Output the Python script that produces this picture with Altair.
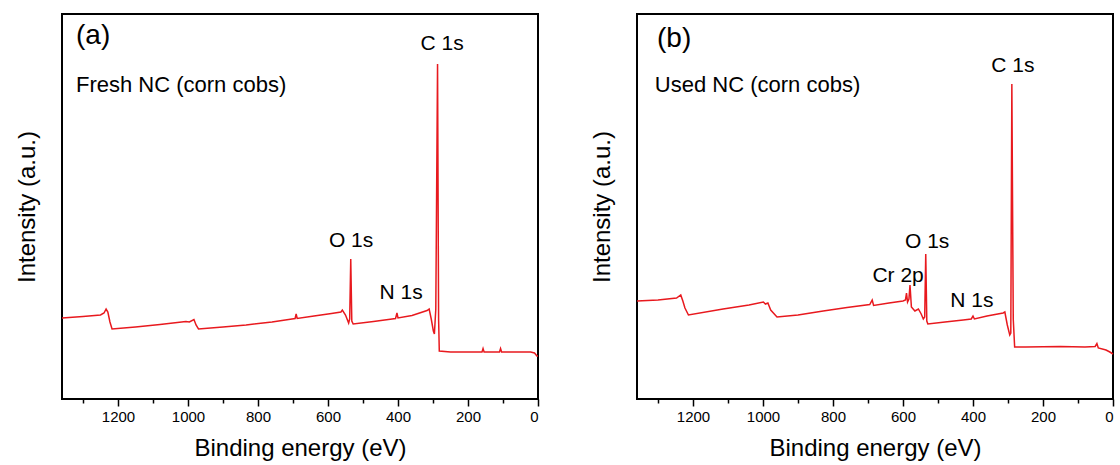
import altair as alt
import pandas as pd

FONT = "Liberation Sans"
RED = "#E8191E"

# ---- Panel (a): Fresh NC (corn cobs) ----
a_ev = [1360, 1300, 1250, 1240, 1234, 1229, 1223, 1217, 1150, 1080, 1006, 996, 983, 977, 970,
        900, 834, 760, 703, 694, 691, 688, 640, 590, 563, 559, 550, 541, 538, 535, 532, 528,
        470, 417, 407, 403, 400, 360, 317, 311, 305, 299, 296, 292, 287, 284, 282, 250, 200,
        160, 157, 154, 110, 107, 104, 50, 21, 10, 3, 0]
a_int = [81, 82.5, 84, 86, 90, 87, 77, 70, 72, 74.5, 77.5, 77, 79.5, 74, 70,
         72, 74, 77, 80, 80.5, 85, 80.5, 83, 85.5, 87, 89, 84, 76, 80, 140, 78, 75,
         77.5, 80, 80.5, 86, 81, 83.5, 88.5, 90, 80, 68, 65, 90, 335, 80, 48, 47, 47,
         47, 50.5, 47, 47, 50.5, 47, 47, 47, 46, 43, 43]

# ---- Panel (b): Used NC (corn cobs) ----
b_ev = [1360, 1300, 1247, 1235, 1229, 1223, 1213, 1114, 1040, 999, 993, 986, 978, 960,
        900, 828, 760, 695, 688, 684, 640, 600, 593, 590, 587, 583, 580, 576, 566, 556, 548,
        542, 538, 535, 532, 529, 480, 428, 405, 400, 396, 360, 314, 309, 302, 295, 292, 289,
        285, 281, 250, 150, 80, 51, 46, 42, 20, 9, 0]
b_int = [98, 99, 101, 104, 98, 91, 84, 90, 94, 97, 95, 96, 89, 82,
         84, 88, 91.5, 94.5, 99, 93.5, 96, 98, 99, 106, 97, 100, 114, 92, 88, 90, 85,
         80, 82, 145, 78, 75, 77, 79, 80, 83, 80, 83, 86, 87, 74, 64, 66, 315,
         80, 52, 52, 52.5, 52, 52.5, 55.5, 51, 49, 47, 45]

# ---- Annotations ----
a_peak_text = ["C 1s", "O 1s", "N 1s"]
a_peak_ev = [274, 534, 391]
a_peak_int = [355, 158, 106]

b_peak_text = ["C 1s", "O 1s", "Cr 2p", "N 1s"]
b_peak_ev = [286, 531, 614, 403]
b_peak_int = [333, 157, 123, 98]

letters = ["(a)", "(b)"]
letter_ev = [1271, 1254]
letter_int = [363, 360]

samples = ["Fresh NC (corn cobs)", "Used NC (corn cobs)"]
sample_ev = [1320, 1309]
sample_int = [314, 314]

major_ticks = [0, 200, 400, 600, 800, 1000, 1200]
minor_ticks = [100, 300, 500, 700, 900, 1100, 1300]

x_axis = alt.Axis(
    values=major_ticks, format="d",
    tickSize=7, tickColor="black", tickWidth=1.5, domain=False, grid=False,
    labelFont=FONT, labelFontSize=15, labelColor="black", labelPadding=3,
    title="Binding energy (eV)", titleFont=FONT, titleFontSize=24,
    titleFontWeight="normal", titleColor="black", titlePadding=12, orient="bottom",
)
x_minor_axis = alt.Axis(
    values=minor_ticks, labels=False, title=None, domain=False, grid=False,
    tickSize=4, tickColor="black", tickWidth=1.5, orient="bottom",
)
y_axis = alt.Axis(
    labels=False, ticks=False, domain=False, grid=False,
    title="Intensity (a.u.)", titleFont=FONT, titleFontSize=24,
    titleFontWeight="normal", titleColor="black", titlePadding=23,
)
x_scale = alt.Scale(domain=[0, 1360], reverse=True, nice=False, zero=False)
y_scale = alt.Scale(domain=[0, 385], nice=False)


def panel(ev, inten, pk_t, pk_e, pk_i, letter, let_e, let_i, sample, s_e, s_i):
    df = pd.DataFrame({"ev": ev, "I": inten})
    y_enc = alt.Y("I:Q", scale=y_scale, axis=y_axis)
    line = alt.Chart(df).mark_line(color=RED, strokeWidth=1.5).encode(
        x=alt.X("ev:Q", scale=x_scale, axis=x_axis),
        y=y_enc,
    )
    pk = alt.Chart(pd.DataFrame({"ev": pk_e, "I": pk_i, "t": pk_t})).mark_text(
        font=FONT, fontSize=21, color="black", align="center", baseline="middle"
    ).encode(x=alt.X("ev:Q", scale=x_scale, axis=x_minor_axis), y=y_enc, text="t:N")
    lt = alt.Chart(pd.DataFrame({"ev": [let_e], "I": [let_i], "t": [letter]})).mark_text(
        font=FONT, fontSize=28, color="black", align="center", baseline="middle"
    ).encode(x=alt.X("ev:Q", scale=x_scale, axis=None), y=y_enc, text="t:N")
    sm = alt.Chart(pd.DataFrame({"ev": [s_e], "I": [s_i], "t": [sample]})).mark_text(
        font=FONT, fontSize=22, color="black", align="left", baseline="middle"
    ).encode(x=alt.X("ev:Q", scale=x_scale, axis=None), y=y_enc, text="t:N")
    return alt.layer(line, pk, lt, sm).resolve_axis(x="independent").properties(
        width=476, height=385)


pa = panel(a_ev, a_int, a_peak_text, a_peak_ev, a_peak_int,
           letters[0], letter_ev[0], letter_int[0], samples[0], sample_ev[0], sample_int[0])
pb = panel(b_ev, b_int, b_peak_text, b_peak_ev, b_peak_int,
           letters[1], letter_ev[1], letter_int[1], samples[1], sample_ev[1], sample_int[1])

chart = alt.hconcat(pa, pb, spacing=99, bounds="flush").properties(
    padding={"left": 14, "top": 13, "right": 0, "bottom": 0},
    background="white",
).configure_view(stroke="black", strokeWidth=2)

chart.save("out.html", embed_options={"renderer": "svg", "actions": False})
